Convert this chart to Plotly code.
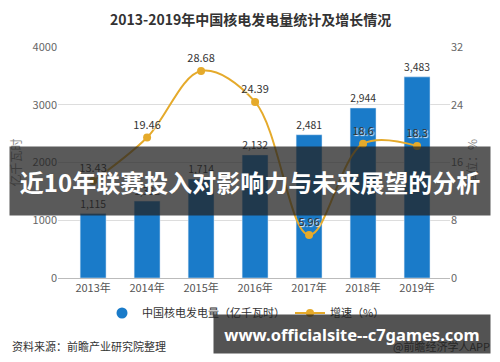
import plotly.graph_objects as go

years = ["2013年", "2014年", "2015年", "2016年", "2017年", "2018年", "2019年"]
generation = [1115, 1332, 1714, 2132, 2481, 2944, 3483]
growth = [13.43, 19.46, 28.68, 24.39, 5.96, 18.6, 18.3]
growth_labels = ["13.43", "19.46", "28.68", "24.39", "5.96", "18.6", "18.3"]

FONT = "Noto Sans CJK SC, Microsoft YaHei, sans-serif"
W, H = 500, 362
L, R, T, B = 58, 50, 47, 84
PW, PH = W - L - R, H - T - B
BAR_C = "#1a7bc9"
LINE_C = "#e5aa2b"


def px(x):
    return (x - L) / PW


def py(y):
    return (H - B - y) / PH


fig = go.Figure()
fig.add_trace(go.Bar(
    x=years, y=generation, name="中国核电发电量（亿千瓦时）",
    marker=dict(color=BAR_C), showlegend=False,
    texttemplate="%{y:,}", textposition="outside",
    textfont=dict(size=11, color="#333333", family=FONT),
    cliponaxis=False,
))
# legend-only entry with a round symbol, as in the reference
fig.add_trace(go.Scatter(
    x=[None], y=[None], mode="markers", name="中国核电发电量（亿千瓦时）",
    marker=dict(color=BAR_C, size=11, symbol="circle"),
))
fig.add_trace(go.Scatter(
    x=years, y=growth, name="增速（%）", yaxis="y2",
    mode="lines+markers+text",
    line=dict(color=LINE_C, width=2, shape="spline", smoothing=1.0),
    marker=dict(color=LINE_C, size=8),
    text=growth_labels, textposition="top center",
    textfont=dict(size=11, color="#333333", family=FONT,
                  shadow="1px 1px 1px white"),
    cliponaxis=False,
))

fig.update_layout(
    width=W, height=H,
    margin=dict(l=L, r=R, t=T, b=B, autoexpand=False),
    paper_bgcolor="white", plot_bgcolor="white",
    font=dict(family=FONT, color="#666666", size=11),
    bargap=0.52,
    showlegend=True,
    legend=dict(orientation="h", x=px(246), xanchor="center", y=py(313),
                yanchor="middle", font=dict(size=11, color="#333333"),
                itemwidth=30, tracegroupgap=0),
    xaxis=dict(range=[-0.65, 6.61], showgrid=False, showline=True,
               linecolor="#bbbbbb", ticks="", tickfont=dict(size=11, color="#555555")),
    yaxis=dict(range=[0, 4000], dtick=1000, gridcolor="#dddddd",
               zeroline=False, tickfont=dict(size=11, color="#666666"),
               title=dict(text="亿千瓦时", font=dict(size=12, color="#888888"),
                          standoff=8)),
    yaxis2=dict(range=[0, 32], dtick=8, overlaying="y", side="right",
                showgrid=False, zeroline=False,
                tickfont=dict(size=11, color="#666666"),
                title=dict(text="单位：%", font=dict(size=12, color="#888888"),
                           standoff=6)),
)

common = dict(xref="paper", yref="paper", showarrow=False,
              xanchor="center", yanchor="middle")
annotations = [
    dict(text="<b>2013-2019年中国核电发电量统计及增长情况</b>",
         x=px(250), y=py(19),
         font=dict(size=14, color="#333333", family=FONT)),
    dict(text="资料来源：前瞻产业研究院整理", x=px(10), y=py(346),
         font=dict(size=11, color="#333333", family=FONT)),
    dict(text="@前瞻经济学人APP", x=px(492), y=py(346),
         font=dict(size=11, color="#333333", family=FONT)),
    dict(text="<b>近10年联赛投入对影响力与未来展望的分析</b>",
         x=px(250), y=py(181),
         width=478, height=66, bgcolor="rgba(35,35,35,0.75)",
         font=dict(size=24, color="white", family=FONT)),
    dict(text="<b>www.officialsite--c7games.com</b>",
         x=px(352), y=py(334),
         width=274, height=36, bgcolor="rgba(35,35,35,0.78)",
         font=dict(size=16.5, color="white", family="Noto Sans, Open Sans, sans-serif")),
]
annotations = [{**common, **a} for a in annotations]
annotations[1]["xanchor"] = "left"
annotations[2]["xanchor"] = "right"
fig.update_layout(annotations=annotations)

fig.write_html("out.html", config={"displayModeBar": False},
               post_script="document.body.style.margin='0';")
